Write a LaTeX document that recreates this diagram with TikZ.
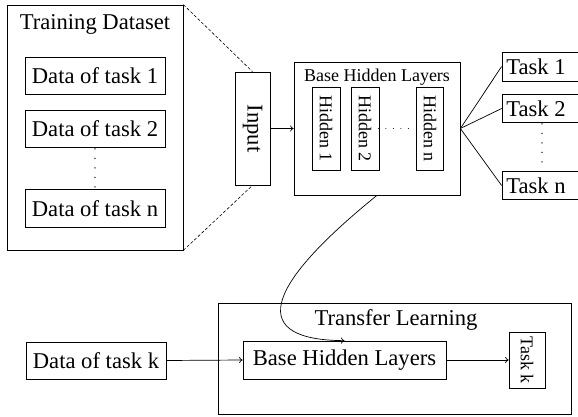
\documentclass[tikz,border=0pt]{standalone}
\usepackage{fontspec}
\setmainfont{Liberation Serif}
\usetikzlibrary{arrows.meta}
\begin{document}
\begin{tikzpicture}[x=1pt,y=-1pt,
  every path/.style={line width=0.7pt},
  box/.style={draw, line width=0.7pt, rectangle, inner sep=0pt, anchor=center},
  big/.style={font=\fontsize{22.6}{26}\selectfont},
  small/.style={font=\fontsize{18}{21}\selectfont},
  arr/.style={-{To[length=3.5pt,width=6pt]}},
  dots/.style={line width=1.4pt, line cap=round, dash pattern=on 0pt off 9.5pt},
  dash line/.style={dash pattern=on 3pt off 2pt, line width=0.6pt}]
\useasboundingbox (0,0) rectangle (578,417);
% Training dataset
\node[box, minimum width=176pt, minimum height=245pt] (train) at (95,127.5) {};
\node[big] (traint) at (95,24) {Training Dataset};
\node[box, big, minimum width=140pt, minimum height=37pt] (d1) at (95,75.5) {Data of task 1};
\node[box, big, minimum width=140pt, minimum height=37pt] (d2) at (95,129) {Data of task 2};
\node[box, big, minimum width=140pt, minimum height=38pt] (dn) at (95,208.5) {Data of task n};
\draw[dots] ([yshift=-1pt]d2.south) -- (dn.north);
% Input
\node[box, minimum width=35pt, minimum height=113pt] (input) at (252.5,128.5) {};
\node[big, rotate=-90] (inputt) at (input.center) {Input};
\draw[dash line] (train.north east) -- (input.north);
\draw[dash line] (train.south east) -- (input.south);
% Base hidden layers
\node[box, minimum width=166pt, minimum height=133pt] (base) at (377,128.5) {};
\node[small] (baset) at (377,77) {Base Hidden Layers};
\node[box, minimum width=28pt, minimum height=83pt] (h1) at (326,128.5) {};
\node[small, rotate=-90] at (h1.center) {Hidden 1};
\node[box, minimum width=28pt, minimum height=83pt] (h2) at (365,128.5) {};
\node[small, rotate=-90] at (h2.center) {Hidden 2};
\node[box, minimum width=27pt, minimum height=83pt] (hn) at (430,128.5) {};
\node[small, rotate=-90] at (hn.center) {Hidden n};
\draw[dots, line width=1.2pt, dash pattern=on 0pt off 7.5pt] ([xshift=-1pt]h2.east) -- ([xshift=-3pt]hn.west);
\draw[arr] (input.east) -- (base.west);
% Tasks
\node[box, big, minimum width=80pt, minimum height=29pt] (t1) at (542,66.5) {\hspace*{-12pt}Task 1};
\node[box, big, minimum width=80pt, minimum height=28pt] (t2) at (542,108.5) {\hspace*{-12pt}Task 2};
\node[box, big, minimum width=80pt, minimum height=28pt] (tn) at (542,185.5) {\hspace*{-12pt}Task n};
\draw[dots] ([yshift=-1pt]t2.south) -- (tn.north);
\draw (base.east) -- (t1.west);
\draw (base.east) -- (t2.west);
\draw (base.east) -- (tn.west);
% Transfer learning
\node[box, minimum width=353pt, minimum height=111pt] (transfer) at (394.5,358.5) {};
\node[big] (transt) at (396,320) {Transfer Learning};
\node[box, big, minimum width=203pt, minimum height=38pt] (bb) at (344.5,360) {Base Hidden Layers};
\node[box, big, minimum width=140pt, minimum height=37pt] (dk) at (96,360.5) {Data of task k};
\node[box, minimum width=36pt, minimum height=56pt] (tk) at (527,360) {};
\node[small, rotate=-90] at (tk.center) {Task k};
\draw[arr] (dk.east) -- (bb.west);
\draw[arr] (bb.east) -- (tk.west);
\draw[arr] (base.south) .. controls (260,290) and (250,340) .. (bb.north);
\end{tikzpicture}
\end{document}
